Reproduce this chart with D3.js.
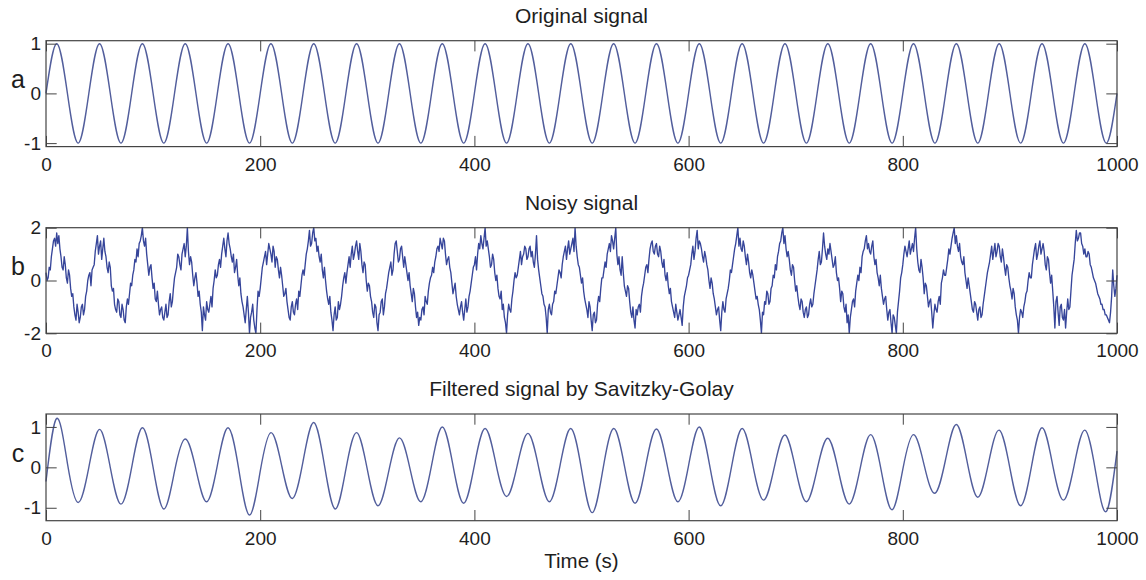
<!DOCTYPE html>
<html>
<head>
<meta charset="utf-8">
<script src="https://cdn.jsdelivr.net/npm/d3@7"></script>
<style>
  body { margin: 0; background: #fff; }
  svg { display: block; font-family: "Liberation Sans", Arial, sans-serif; }
</style>
</head>
<body>
<svg id="chart"></svg>
<script>
const W = 1146, H = 580;

const X_TICKS = [0, 200, 400, 600, 800, 1000];

// original sine, read every 10 s
const ORIG_STEP = 10;
const ORIG_V = [
  0, 1, 0, -1, 0, 1, 0, -1, 0, 1, 0, -1, 0, 1, 0, -1, 0, 1, 0, -1,
  0, 1, 0, -1, 0, 1, 0, -1, 0, 1, 0, -1, 0, 1, 0, -1, 0, 1, 0, -1,
  0, 1, 0, -1, 0, 1, 0, -1, 0, 1, 0, -1, 0, 1, 0, -1, 0, 1, 0, -1,
  0, 1, 0, -1, 0, 1, 0, -1, 0, 1, 0, -1, 0, 1, 0, -1, 0, 1, 0, -1,
  0, 1, 0, -1, 0, 1, 0, -1, 0, 1, 0, -1, 0, 1, 0, -1, 0, 1, 0, -1,
  0
];

// noisy signal, one value per second (one row per 40 s cycle)
const NOISY_STEP = 1;
const NOISY_V = [
  0.3,0.0,0.1,0.5,0.4,0.9,1.2,1.5,1.6,1.3, 1.8,1.4,1.7,1.2,0.9,0.5,0.4,0.9,0.6,0.1, -0.1,0.4,0.2,-0.3,-0.6,-0.5,-1.0,-1.3,-1.5,-0.9, -1.2,-1.6,-1.4,-1.0,-0.9,-1.3,-1.1,-0.6,-0.4,0.0,
  0.2,0.3,-0.2,0.4,0.5,0.6,1.1,1.4,1.7,1.0, 1.3,1.5,0.8,1.2,1.6,1.1,0.9,0.5,0.3,0.7, 0.5,-0.2,-0.4,-0.3,-0.9,-1.1,-1.2,-0.7,-0.8,-1.3, -1.4,-0.9,-1.1,-1.5,-1.6,-1.0,-0.7,-0.9,-0.5,-0.1,
  -0.2,0.2,0.4,0.8,0.7,1.2,0.9,1.4,1.5,1.7, 2.0,1.5,1.3,1.6,1.0,0.6,0.2,0.5,0.6,0.1, -0.3,-0.1,-0.7,-0.8,-0.4,-0.9,-1.3,-1.1,-1.0,-1.4, -1.5,-1.2,-0.9,-1.4,-1.3,-0.8,-0.5,-1.0,-0.8,-0.3,
  0.1,0.3,0.5,1.0,0.9,0.6,0.4,1.0,1.2,1.4, 0.9,1.3,2.0,1.1,0.6,0.9,0.7,0.2,-0.2,0.1, 0.3,-0.1,-0.6,-0.4,-0.9,-1.2,-1.9,-1.0,-1.3,-1.5, -0.8,-1.1,-1.2,-0.9,-0.6,-1.0,-0.3,0.0,0.4,0.1,
  0.2,0.6,0.8,0.5,1.0,1.3,1.6,1.2,0.9,1.5, 1.8,1.4,1.2,0.9,0.7,1.0,0.3,0.5,0.8,0.2, -0.2,0.1,-0.5,-0.8,-1.0,-1.3,-1.6,-1.1,-0.6,-1.2, -2.0,-1.4,-1.2,-0.9,-1.5,-1.8,-2.0,-1.1,-0.4,-0.6,
  -0.3,0.1,0.5,0.7,0.9,1.1,0.6,1.0,1.4,1.2, 1.0,0.7,1.3,1.1,0.5,0.9,0.8,0.4,0.1,0.5, 0.2,-0.2,-0.6,-0.5,-0.3,-0.8,-1.1,-1.4,-1.5,-1.0, -0.8,-1.2,-1.3,-0.9,-0.7,-1.1,-0.4,-0.6,-0.2,0.2,
  0.4,0.2,0.6,1.0,1.2,1.5,1.9,1.3,1.4,1.8, 2.0,1.5,1.6,1.1,1.3,0.9,0.7,1.0,0.4,0.1, 0.5,0.0,-0.4,-0.7,-0.9,-0.6,-1.2,-1.5,-1.9,-1.3, -1.0,-1.5,-1.4,-0.8,-1.1,-0.9,-0.6,-0.2,0.1,0.3,
  -0.1,0.3,0.6,0.9,0.5,1.0,1.3,0.8,1.0,1.3, 1.5,1.1,0.8,1.4,1.1,0.6,0.3,0.7,0.6,0.0, -0.4,-0.1,-0.2,-0.6,-0.8,-1.2,-1.4,-0.9,-1.0,-1.6, -1.9,-1.3,-1.2,-0.8,-0.7,-1.3,-1.0,-0.5,-0.3,0.0,
  0.3,0.5,0.7,0.2,0.4,1.0,1.4,1.5,1.1,0.7, 0.8,1.2,1.3,0.9,0.5,0.9,0.6,0.3,0.0,0.3, -0.2,-0.5,-0.8,-0.3,-0.5,-1.0,-1.4,-1.2,-1.7,-1.4, -1.5,-1.1,-1.0,-1.3,-0.6,-0.8,-0.9,-0.4,-0.1,0.1,
  0.2,0.5,0.3,0.7,0.9,1.2,1.3,1.1,1.6,1.4, 1.2,1.6,1.5,1.0,0.6,0.8,0.9,0.5,0.3,-0.1, -0.5,-0.3,-0.1,-0.6,-0.9,-1.1,-1.3,-1.0,-0.8,-1.2, -1.5,-1.1,-0.7,-1.2,-1.0,-0.6,-0.4,-0.1,0.2,0.5,
  0.6,0.9,0.4,1.0,1.4,1.2,1.7,1.4,1.2,1.6, 2.0,1.3,1.5,1.2,0.9,0.5,0.6,1.0,0.8,0.3, 0.0,0.2,-0.3,-0.6,-0.7,-0.4,-1.1,-0.9,-1.4,-1.6, -2.0,-1.3,-0.9,-1.1,-1.2,-0.7,-0.4,0.0,0.3,0.1,
  0.2,0.5,0.8,1.1,0.6,0.9,1.0,1.3,1.2,0.8, 0.9,1.2,1.3,0.9,1.1,0.7,0.5,1.0,1.7,0.8, 0.4,0.1,-0.2,-0.5,-0.6,-0.9,-1.0,-1.4,-2.0,-1.1, -0.9,-1.2,-1.3,-0.9,-0.8,-0.4,-0.5,-0.2,0.1,0.4,
  0.3,0.1,0.6,0.9,1.1,1.3,0.8,1.2,1.5,1.0, 1.2,1.4,1.6,1.1,2.0,1.3,0.9,0.6,0.5,0.2, -0.1,0.1,-0.4,-0.7,-0.9,-1.1,-1.4,-0.8,-1.0,-1.5, -1.9,-1.3,-1.2,-1.6,-1.5,-0.9,-0.6,-0.8,-0.3,0.1,
  0.1,0.4,0.7,0.5,1.0,1.2,1.4,1.1,1.7,1.5, 1.2,1.6,2.0,1.0,0.6,0.9,0.4,0.2,0.9,0.3, -0.2,-0.4,-0.6,-0.2,-0.3,-0.8,-1.2,-1.4,-1.0,-1.5, -1.8,-1.1,-1.3,-1.0,-0.9,-1.2,-0.6,-0.3,-0.1,0.2,
  0.5,0.6,0.3,0.8,1.2,1.4,1.5,1.1,1.0,1.3, 1.4,1.0,0.9,1.3,1.1,0.7,0.5,0.8,0.2,0.0, 0.3,-0.2,-0.5,-0.3,-0.8,-1.0,-1.2,-1.4,-0.9,-1.2, -1.5,-1.3,-1.1,-1.4,-1.7,-1.0,-0.6,-0.4,-0.2,0.1,
  0.2,0.4,0.6,1.0,1.3,0.8,1.1,1.6,1.9,1.2, 1.5,1.4,1.2,0.9,0.7,1.1,0.9,0.6,0.4,0.0, -0.3,0.1,-0.1,-0.5,-0.7,-1.0,-1.3,-1.1,-1.0,-1.5, -1.9,-1.2,-0.8,-1.1,-1.2,-0.7,-0.5,-0.3,0.0,0.4,
  0.3,0.6,0.9,1.2,1.4,1.7,2.0,1.3,1.6,1.2, 1.1,1.5,1.3,0.9,0.6,1.0,0.7,0.3,0.1,0.4, 0.2,-0.1,-0.4,-0.7,-0.6,-0.9,-1.1,-1.5,-2.0,-1.2, -1.3,-0.8,-0.9,-0.4,-0.5,-0.9,-0.8,-0.3,-0.2,0.2,
  0.1,0.6,0.4,0.9,1.1,1.4,1.5,1.8,2.0,1.4, 1.7,1.2,0.9,1.1,0.8,0.4,0.2,0.6,0.5,0.0, -0.4,-0.2,-0.6,-0.9,-1.1,-0.7,-0.8,-1.2,-1.4,-1.1, -1.0,-1.4,-1.3,-0.9,-0.7,-1.0,-0.9,-0.5,-0.2,0.1,
  0.4,0.8,1.1,0.6,0.7,1.2,1.8,1.3,1.0,0.8, 1.2,1.0,1.4,1.1,0.8,0.5,0.6,0.9,0.3,0.0, 0.1,-0.3,-0.8,-0.4,-0.5,-1.0,-1.2,-0.9,-1.6,-1.3, -2.0,-1.4,-1.1,-0.8,-0.7,-1.0,-0.4,-0.1,0.2,0.0,
  0.5,0.3,0.9,1.1,1.2,1.5,1.7,1.2,1.4,1.1, 1.0,1.3,1.5,0.9,0.6,0.8,0.3,0.1,-0.2,0.2, -0.3,-0.6,-0.9,-0.7,-0.6,-1.1,-1.5,-1.2,-1.1,-1.6, -2.0,-1.3,-1.4,-1.7,-2.0,-1.2,-0.8,-0.4,0.1,0.3,
  0.6,1.0,1.3,1.1,0.9,1.2,1.5,1.0,1.2,1.4, 1.1,1.6,2.0,1.2,0.7,0.4,0.3,0.8,0.5,0.1, -0.5,-0.1,-0.2,-0.6,-1.0,-0.8,-0.7,-1.2,-1.8,-1.3, -0.9,-1.1,-1.2,-0.8,-0.6,-0.9,-0.1,0.1,0.4,0.2,
  0.2,0.5,0.8,1.2,1.0,1.3,1.6,1.8,2.0,1.4, 1.7,1.3,1.1,1.4,0.9,0.7,0.6,0.9,0.3,0.0, -0.3,0.1,-0.2,-0.5,-0.8,-1.1,-1.2,-0.8,-0.9,-1.2, -1.5,-1.1,-1.0,-1.4,-1.3,-0.9,-0.6,-0.3,0.0,0.3,
  0.5,0.7,1.0,1.3,0.8,1.1,1.4,0.9,1.1,1.4, 1.3,0.9,0.7,1.2,0.9,0.5,0.2,0.6,0.5,0.1, -0.2,-0.4,-0.7,-0.3,-0.5,-1.0,-1.3,-1.5,-2.0,-1.4, -1.1,-1.2,-1.4,-1.0,-0.8,-0.5,-0.4,0.0,0.3,0.1,
  0.1,0.6,0.9,1.2,1.4,0.8,1.0,1.3,1.5,1.0, 1.2,1.4,1.1,0.6,0.4,0.9,0.8,0.3,-0.1,0.2, -0.4,-1.0,-1.8,-0.8,-0.6,-1.2,-1.7,-1.0,-0.9,-1.4, -1.5,-1.1,-1.8,-1.2,-0.7,-1.1,-1.0,-0.4,0.2,0.5,
  0.8,1.4,1.9,1.5,1.6,1.8,1.8,1.4,1.3,1.0, 1.2,0.9,0.9,1.1,1.0,0.6,0.5,0.3,0.1,0.0, -0.1,-0.3,-0.5,-0.6,-0.7,-0.9,-0.9,-1.1,-1.1,-1.3, -1.3,-1.4,-1.5,-1.6,-1.2,-0.6,0.4,-0.2,-0.6,-0.3,
  0.2
];

// Savitzky-Golay output, read every 10 s (peaks, troughs and crossings)
const FILT_STEP = 10;
const FILT_V = [
  -0.35, 1.21, 0.1, -0.87, 0.0, 0.94, 0.0, -0.91, 0.0, 0.98, 0.0, -1.03, -0.1, 0.70, -0.05, -0.85, 0.05, 0.98, -0.05, -1.18,
  -0.1, 0.86, 0.05, -0.77, 0.15, 1.11, 0.05, -1.03, -0.05, 0.86, -0.05, -0.95, -0.1, 0.73, -0.05, -0.85, 0.05, 1.00, 0.05, -0.89,
  0.05, 0.96, 0.1, -0.72, 0.05, 0.84, 0.0, -0.85, 0.05, 0.96, -0.05, -1.12, -0.05, 0.96, 0.05, -0.89, 0.05, 0.95, 0.05, -0.85,
  0.05, 1.00, 0.0, -0.95, 0.0, 0.96, 0.05, -0.81, 0.0, 0.80, -0.05, -0.85, -0.05, 0.72, -0.1, -0.91, -0.05, 0.81, -0.1, -1.05,
  -0.05, 0.81, 0.05, -0.64, 0.2, 1.06, 0.15, -0.74, 0.1, 0.92, -0.02, -0.95, 0.0, 0.98, 0.05, -0.81, 0.05, 0.92, -0.1, -1.09,
  0.4
];

const PANELS = [
  { title: "Original signal", label: "a", values: ORIG_V, step: ORIG_STEP, yTicks: [-1, 0, 1], yDomain: [-1.07, 1.06] },
  { title: "Noisy signal", label: "b", values: NOISY_V, step: NOISY_STEP, yTicks: [-2, 0, 2], yDomain: [-2, 2] },
  { title: "Filtered signal by Savitzky-Golay", label: "c", values: FILT_V, step: FILT_STEP, yTicks: [-1, 0, 1], yDomain: [-1.32, 1.32] }
];

// layout, kept apart from the data
const BOX_TOP = [40.7, 227.7, 414];
const BOX_BOT = [146.6, 333.3, 520.7];
const LINE_STYLE = [
  { color: "#525e9c", width: 1.4, curve: d3.curveNatural },
  { color: "#36459a", width: 1.35, curve: d3.curveLinear },
  { color: "#525e9c", width: 1.4, curve: d3.curveNatural }
];
const X0 = 46, X1 = 1117;
const TICK = 10.7;

const svg = d3.select("#chart").attr("width", W).attr("height", H);

const x = d3.scaleLinear().domain([0, 1000]).range([X0, X1]);

function fmt(d) { return String(d); }

function styleAxis(g, withText) {
  g.select(".domain").remove();
  g.selectAll(".tick line").attr("stroke", "#444");
  g.selectAll(".tick text")
    .attr("font-family", "Liberation Sans, Arial, sans-serif")
    .attr("font-size", 19)
    .attr("fill", "#1e1e1e");
  if (!withText) g.selectAll(".tick text").remove();
}

PANELS.forEach((p, i) => {
  const top = BOX_TOP[i], bot = BOX_BOT[i];
  const st = LINE_STYLE[i];
  const y = d3.scaleLinear().domain(p.yDomain).range([bot, top]);
  const g = svg.append("g");

  const line = d3.line()
    .x((d, k) => x(k * p.step))
    .y(d => y(d))
    .curve(st.curve);

  g.append("path")
    .attr("d", line(p.values))
    .attr("fill", "none")
    .attr("stroke", st.color)
    .attr("stroke-width", st.width)
    .attr("stroke-linejoin", "round");

  g.append("g").attr("transform", "translate(0," + bot + ")")
    .call(d3.axisBottom(x).tickValues(X_TICKS).tickSize(-TICK).tickPadding(10.5).tickFormat(fmt))
    .call(a => styleAxis(a, true));
  g.append("g").attr("transform", "translate(0," + top + ")")
    .call(d3.axisTop(x).tickValues(X_TICKS).tickSize(-TICK))
    .call(a => styleAxis(a, false));
  g.append("g").attr("transform", "translate(" + X0 + ",0)")
    .call(d3.axisLeft(y).tickValues(p.yTicks).tickSize(-TICK).tickPadding(5).tickFormat(fmt))
    .call(a => styleAxis(a, true));
  g.append("g").attr("transform", "translate(" + X1 + ",0)")
    .call(d3.axisRight(y).tickValues(p.yTicks).tickSize(-TICK))
    .call(a => styleAxis(a, false));

  g.append("rect")
    .attr("x", X0).attr("y", top)
    .attr("width", X1 - X0).attr("height", bot - top)
    .attr("fill", "none").attr("stroke", "#444").attr("stroke-width", 1.2);

  g.append("text")
    .attr("x", (X0 + X1) / 2).attr("y", top - 17.7)
    .attr("text-anchor", "middle")
    .attr("font-size", 21).attr("fill", "#1e1e1e")
    .text(p.title);

  g.append("text")
    .attr("x", 18).attr("y", y(0) - 5.5)
    .attr("text-anchor", "middle")
    .attr("font-size", 25).attr("fill", "#1e1e1e")
    .text(p.label);
});

svg.append("text")
  .attr("x", (X0 + X1) / 2).attr("y", 568)
  .attr("text-anchor", "middle")
  .attr("font-size", 20.5).attr("fill", "#1e1e1e")
  .text("Time (s)");
</script>
</body>
</html>
